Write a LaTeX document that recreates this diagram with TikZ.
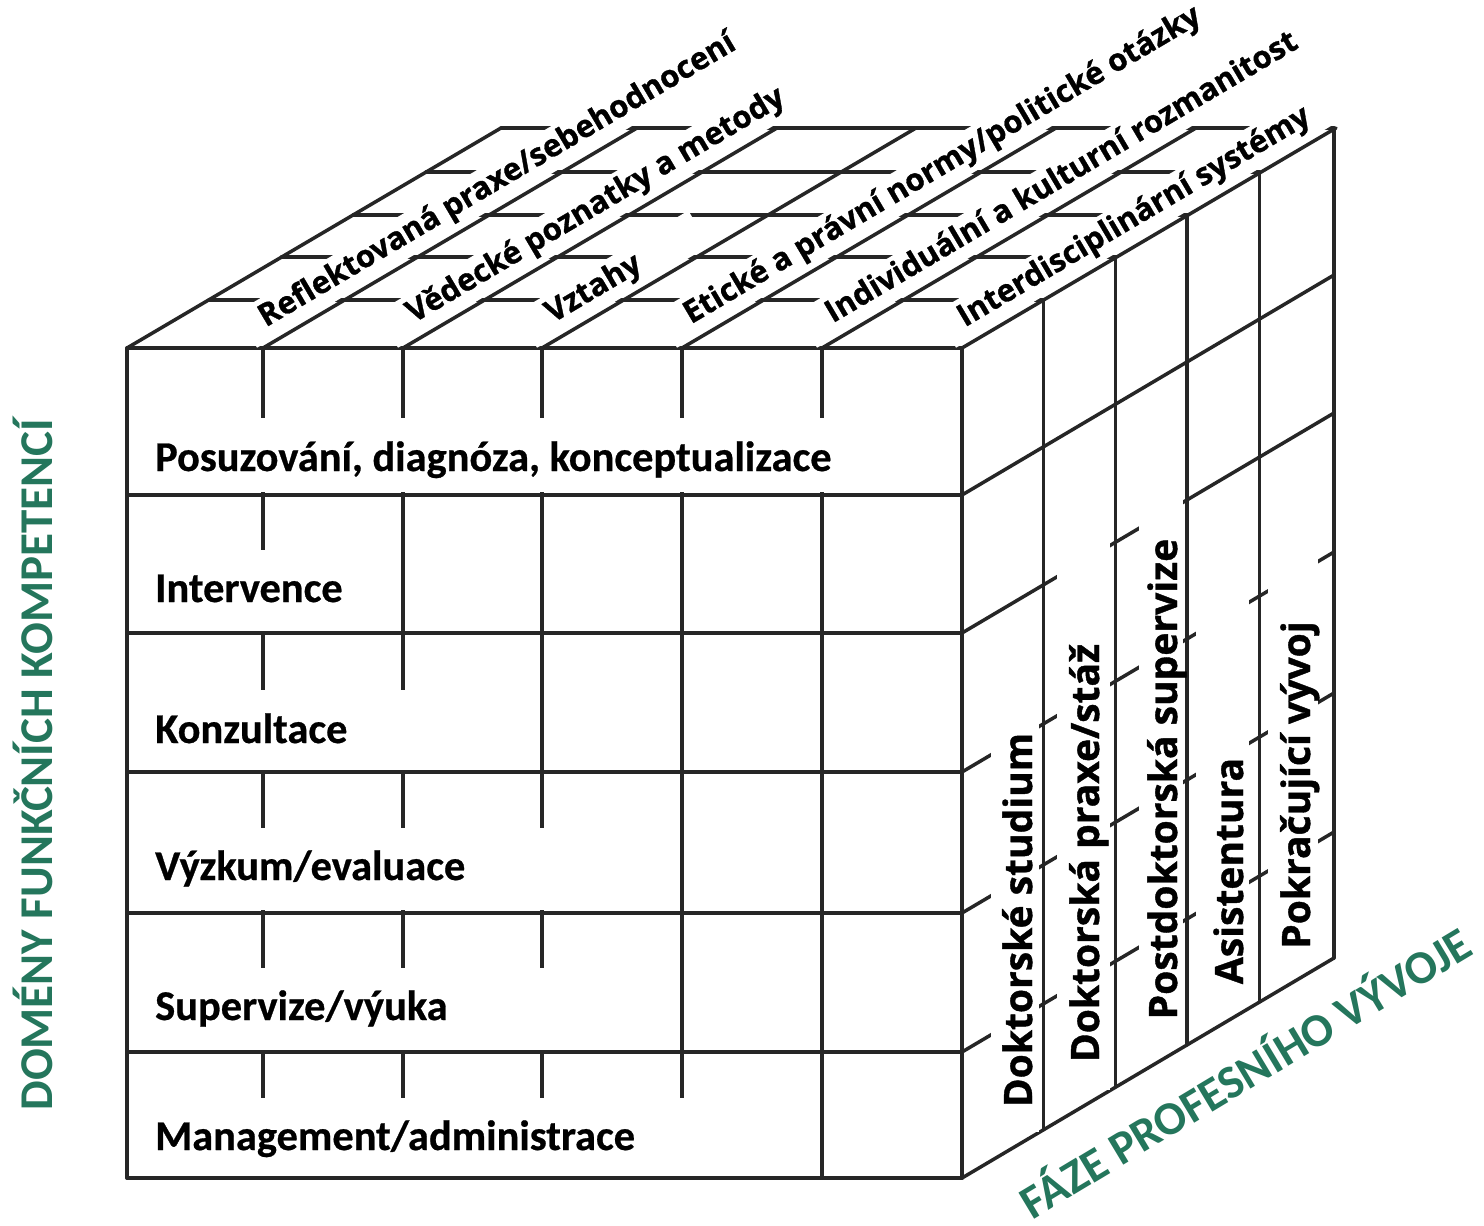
\documentclass[tikz,border=0pt]{standalone}
\usepackage{fontspec}
\setmainfont{Carlito}
\newfontfamily\osans{Open Sans}[BoldFeatures={FakeBold=1}]
\newfontfamily\calibh{Carlito}[BoldFeatures={FakeBold=0.6}]
\newfontfamily\calib{Carlito}
\definecolor{titlegreen}{RGB}{36,118,92}
\begin{document}
\begin{tikzpicture}[x=1pt,y=-1pt,
  gridline/.style={line width=3.5pt, black!85, line cap=round},
  wbox/.style={fill=white, draw=none},
  frontlab/.style={font=\calibh\bfseries\fontsize{42.4}{48}\selectfont, anchor=base west, inner sep=0pt},
  toplab/.style={font=\osans\bfseries\fontsize{31}{37}\selectfont, fill=white, rotate=30.6, anchor=south west, inner xsep=18pt, inner ysep=5pt, text height=23pt, text depth=8pt},
  sidelab/.style={font=\osans\bfseries\fontsize{39}{44}\selectfont, rotate=90, anchor=base, inner sep=0pt},
  titlelab/.style={font=\calib\bfseries\fontsize{47}{52}\selectfont, text=titlegreen, anchor=base, inner sep=0pt}
]
\useasboundingbox (0,0) rectangle (1484,1226);
\fill[white] (0,0) rectangle (1484,1226);

% ---------- front face grid ----------
\foreach \x in {127,263,403,542,682,822,962}
  \draw[gridline] (\x,348) -- (\x,1178);
\foreach \y in {348,495,633,772,913,1052,1178}
  \draw[gridline] (127,\y) -- (962,\y);

% ---------- top face grid ----------
\foreach \x in {127,263,403,542,682,822,962}
  \draw[gridline] (\x,348) -- ++(374,-220);
\foreach \t in {0.219,0.413,0.605,0.8,1}
  \draw[gridline] ({127+374*\t},{348-220*\t}) -- ({962+372*\t},{348-220*\t});

% ---------- right face grid ----------
\foreach \t in {0.219,0.413,0.605,0.8,1}
  \draw[gridline] ({962+372*\t},{348-220*\t}) -- ({962+372*\t},{1178-220*\t});
\foreach \y in {495,633,772,913,1052,1178}
  \draw[gridline] (962,\y) -- ++(372,-220);

% ---------- front labels ----------
\fill[wbox] (133,418) rectangle (955,492);
\fill[wbox] (131,550) rectangle (395,631);
\fill[wbox] (131,690) rectangle (408,770);
\fill[wbox] (131,828) rectangle (555,910);
\fill[wbox] (131,968) rectangle (600,1050);
\fill[wbox] (131,1098) rectangle (725,1176);
\node[frontlab] (f1) at (155,471) {Posuzování, diagnóza, konceptualizace};
\node[frontlab] (f2) at (155,602) {Intervence};
\node[frontlab] (f3) at (155,743) {Konzultace};
\node[frontlab] (f4) at (155,880) {Výzkum/evaluace};
\node[frontlab] (f5) at (155,1020) {Supervize/výuka};
\node[frontlab] (f6) at (155,1150) {Management/administrace};

% ---------- top labels ----------
\node[toplab] (t1) at (257,348) {Reflektovaná praxe/sebehodnocení};
\node[toplab] (t2) at (398,348) {\hspace*{8pt}Vědecké poznatky a metody};
\node[toplab, minimum width=200pt, align=left, text width=164pt] (t3) at (537,348) {\hspace*{8pt}Vztahy};
\node[toplab] (t4) at (677,348) {\hspace*{6pt}Etické a právní normy/politické otázky};
\node[toplab] (t5) at (817,348) {\hspace*{8pt}Individuální a kulturní rozmanitost};
\node[toplab] (t6) at (956,348) {Interdisciplinární systémy};

% ---------- right face labels ----------
\fill[wbox] (991,665) rectangle (1039,1132);
\fill[wbox] (1057,510) rectangle (1110,1090);
\fill[wbox] (1139,500) rectangle (1183,1040);
\fill[wbox] (1196,590) rectangle (1249,1000);
\fill[wbox] (1268,535) rectangle (1318,960);
\node[sidelab] (s1) at (1032,920) {Doktorské studium};
\node[sidelab] (s2) at (1099,853) {Doktorská praxe/stáž};
\node[sidelab] (s3) at (1177,779) {Postdoktorská supervize};
\node[sidelab] (s4) at (1243,871) {Asistentura};
\node[sidelab] (s5) at (1310,785) {Pokračující vývoj};

% ---------- axis titles ----------
\node[titlelab, rotate=90] (ya) at (52,765) {DOMÉNY FUNKČNÍCH KOMPETENCÍ};
\node[titlelab, rotate=31] (za) at (1254,1087) {FÁZE PROFESNÍHO VÝVOJE};
\end{tikzpicture}
\end{document}
